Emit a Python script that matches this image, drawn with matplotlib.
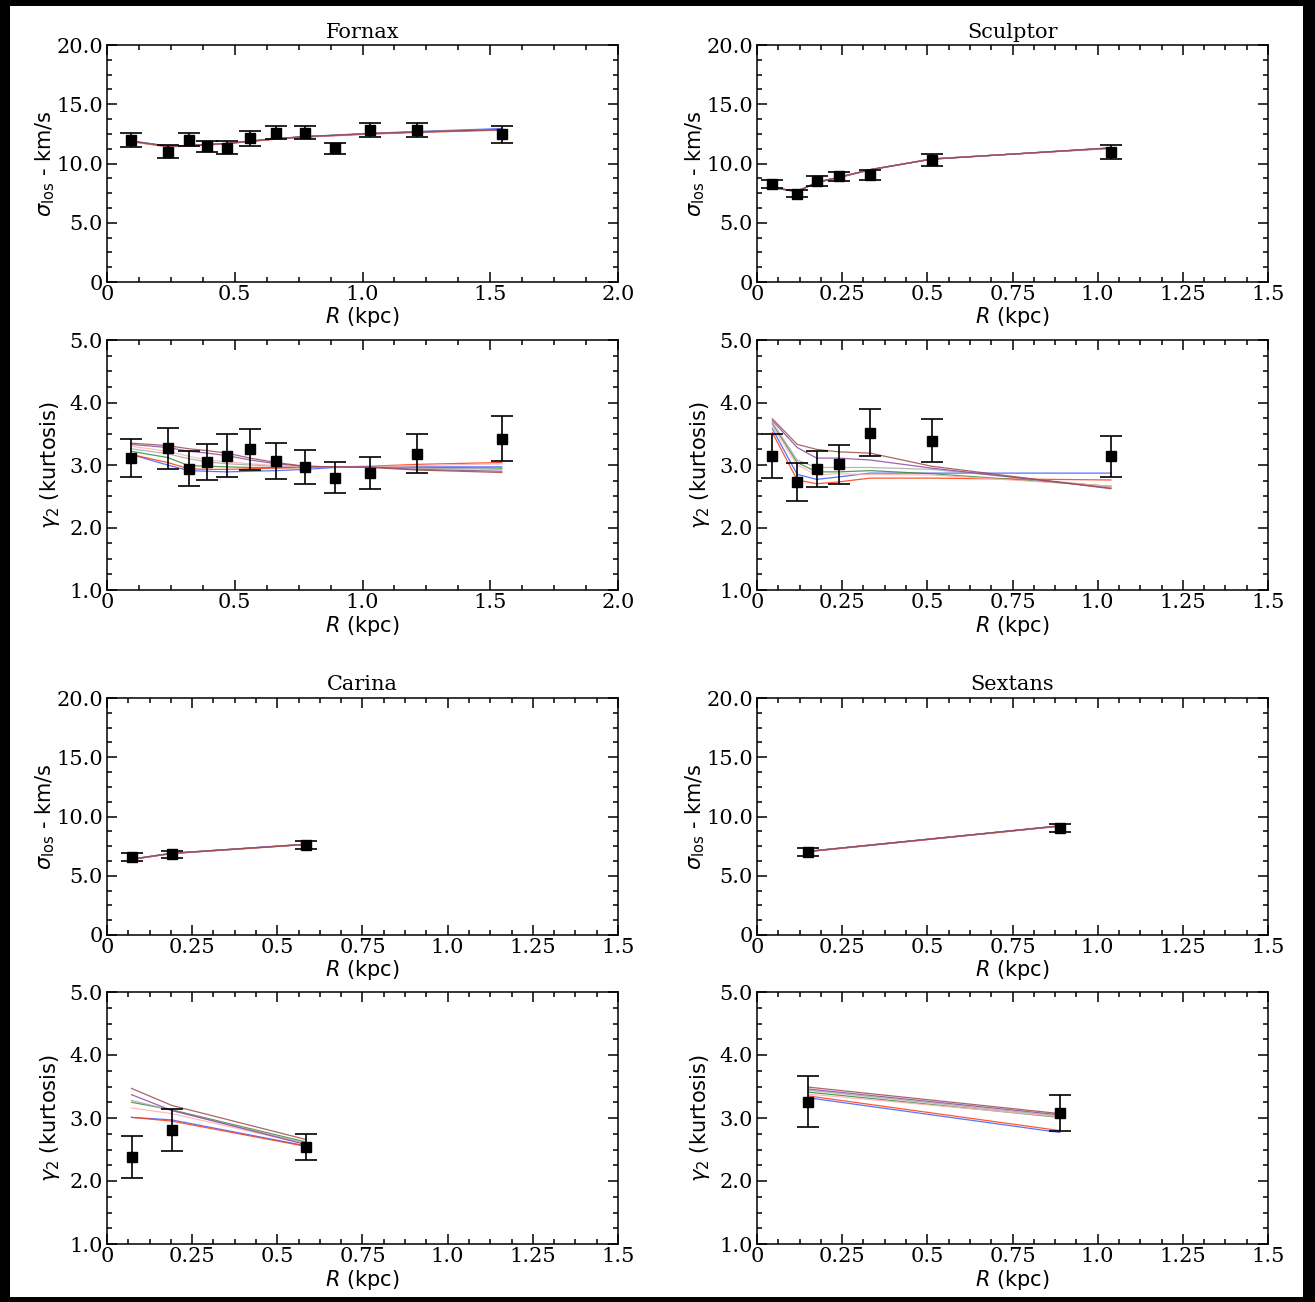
import matplotlib
matplotlib.use("Agg")
import matplotlib.pyplot as plt
from matplotlib.patches import Rectangle
from matplotlib.ticker import MultipleLocator, FixedLocator, FixedFormatter

# ---------------- data ----------------
model_colors = ['#3a5cff', '#ff3a10', '#3a8a3a', '#a8a8a8', '#ffb0b0', '#8a4aa0', '#a04a4a']

# Fornax
fnx_R = [0.093, 0.237, 0.320, 0.393, 0.469, 0.561, 0.663, 0.773, 0.891, 1.029, 1.212, 1.545]
fnx_sig = [11.96, 11.01, 12.02, 11.44, 11.35, 12.11, 12.60, 12.60, 11.30, 12.83, 12.83, 12.46]
fnx_sig_err = [0.58, 0.58, 0.58, 0.45, 0.55, 0.62, 0.55, 0.55, 0.46, 0.58, 0.58, 0.69]
fnx_kur = [3.11, 3.27, 2.94, 3.05, 3.15, 3.25, 3.06, 2.97, 2.80, 2.87, 3.18, 3.42]
fnx_kur_err = [0.30, 0.33, 0.28, 0.29, 0.34, 0.33, 0.29, 0.27, 0.25, 0.26, 0.31, 0.36]
fnx_sig_models = [
    [11.92, 11.48, 11.52, 11.60, 11.70, 11.90, 12.10, 12.28, 12.40, 12.55, 12.70, 12.95],
    [11.85, 11.40, 11.47, 11.56, 11.66, 11.86, 12.05, 12.22, 12.34, 12.48, 12.62, 12.82],
    [11.88, 11.44, 11.50, 11.59, 11.68, 11.88, 12.08, 12.26, 12.37, 12.52, 12.66, 12.88],
    [11.88, 11.45, 11.50, 11.59, 11.68, 11.88, 12.08, 12.25, 12.37, 12.51, 12.66, 12.87],
    [11.87, 11.43, 11.49, 11.58, 11.67, 11.87, 12.07, 12.25, 12.36, 12.51, 12.65, 12.86],
    [11.89, 11.45, 11.51, 11.60, 11.69, 11.89, 12.09, 12.26, 12.38, 12.52, 12.66, 12.86],
    [11.89, 11.46, 11.51, 11.60, 11.69, 11.89, 12.09, 12.27, 12.38, 12.52, 12.65, 12.85],
]
fnx_kur_models = [
    [3.17, 3.00, 2.91, 2.90, 2.89, 2.90, 2.91, 2.93, 2.96, 2.97, 2.97, 2.97],
    [3.17, 3.04, 2.94, 2.93, 2.93, 2.94, 2.95, 2.96, 2.97, 2.98, 3.01, 3.04],
    [3.22, 3.12, 2.99, 2.98, 2.97, 2.96, 2.96, 2.96, 2.97, 2.97, 2.96, 2.95],
    [3.26, 3.18, 3.10, 3.05, 3.02, 3.00, 2.98, 2.97, 2.97, 2.97, 2.95, 2.93],
    [3.30, 3.22, 3.14, 3.08, 3.05, 3.02, 2.99, 2.97, 2.97, 2.97, 2.99, 3.02],
    [3.33, 3.28, 3.22, 3.19, 3.15, 3.08, 3.02, 2.98, 2.97, 2.97, 2.93, 2.90],
    [3.35, 3.31, 3.26, 3.23, 3.19, 3.11, 3.04, 2.98, 2.97, 2.96, 2.92, 2.88],
]

# Sculptor
scl_R = [0.045, 0.118, 0.175, 0.241, 0.332, 0.513, 1.039]
scl_sig = [8.26, 7.46, 8.54, 8.91, 9.02, 10.32, 10.95]
scl_sig_err = [0.35, 0.28, 0.40, 0.36, 0.43, 0.50, 0.57]
scl_kur = [3.14, 2.73, 2.94, 3.01, 3.52, 3.39, 3.14]
scl_kur_err = [0.35, 0.31, 0.29, 0.31, 0.37, 0.34, 0.33]
scl_sig_models = [
    [7.99, 7.65, 8.42, 8.85, 9.49, 10.36, 11.33],
    [7.95, 7.61, 8.38, 8.81, 9.45, 10.40, 11.27],
    [7.97, 7.63, 8.40, 8.83, 9.47, 10.38, 11.30],
    [7.97, 7.63, 8.40, 8.83, 9.47, 10.38, 11.30],
    [7.96, 7.62, 8.39, 8.82, 9.46, 10.39, 11.29],
    [7.98, 7.64, 8.41, 8.84, 9.48, 10.37, 11.31],
    [7.98, 7.63, 8.40, 8.84, 9.48, 10.37, 11.31],
]
scl_kur_models = [
    [3.58, 2.85, 2.77, 2.81, 2.87, 2.87, 2.87],
    [3.52, 2.76, 2.70, 2.73, 2.79, 2.79, 2.76],
    [3.66, 3.04, 2.89, 2.89, 2.91, 2.86, 2.66],
    [3.68, 3.08, 2.96, 2.96, 2.96, 2.93, 2.65],
    [3.62, 3.00, 2.84, 2.86, 2.85, 2.84, 2.66],
    [3.71, 3.28, 3.11, 3.11, 3.08, 2.95, 2.63],
    [3.74, 3.33, 3.25, 3.21, 3.19, 2.98, 2.62],
]

# Carina
car_R = [0.072, 0.190, 0.583]
car_sig = [6.56, 6.81, 7.59]
car_sig_err = [0.35, 0.28, 0.31]
car_kur = [2.38, 2.81, 2.54]
car_kur_err = [0.33, 0.33, 0.20]
car_sig_models = [
    [6.41, 6.90, 7.66],
    [6.37, 6.87, 7.63],
    [6.39, 6.89, 7.65],
    [6.39, 6.89, 7.65],
    [6.38, 6.88, 7.64],
    [6.40, 6.90, 7.66],
    [6.39, 6.88, 7.64],
]
car_kur_models = [
    [3.01, 2.97, 2.56],
    [3.01, 2.95, 2.55],
    [3.25, 3.13, 2.62],
    [3.28, 3.12, 2.60],
    [3.16, 3.07, 2.59],
    [3.37, 3.12, 2.58],
    [3.47, 3.20, 2.66],
]

# Sextans
sex_R = [0.151, 0.889]
sex_sig = [7.00, 9.03]
sex_sig_err = [0.35, 0.35]
sex_kur = [3.26, 3.08]
sex_kur_err = [0.40, 0.28]
sex_sig_models = [
    [7.07, 9.22],
    [7.03, 9.18],
    [7.05, 9.20],
    [7.05, 9.20],
    [7.04, 9.19],
    [7.06, 9.21],
    [7.05, 9.20],
]
sex_kur_models = [
    [3.32, 2.77],
    [3.35, 2.80],
    [3.41, 3.01],
    [3.44, 3.03],
    [3.38, 3.02],
    [3.46, 3.05],
    [3.49, 3.07],
]

names = ['Fornax', 'Sculptor', 'Carina', 'Sextans']

xt_fnx = [0, 0.5, 1.0, 1.5, 2.0]
xt_fnx_lab = ['0', '0.5', '1.0', '1.5', '2.0']
xt_oth = [0, 0.25, 0.5, 0.75, 1.0, 1.25, 1.5]
xt_oth_lab = ['0', '0.25', '0.5', '0.75', '1.0', '1.25', '1.5']
yt_sig = [0, 5, 10, 15, 20]
yt_sig_lab = ['0', '5.0', '10.0', '15.0', '20.0']
yt_kur = [1, 2, 3, 4, 5]
yt_kur_lab = ['1.0', '2.0', '3.0', '4.0', '5.0']

# ---------------- figure ----------------
W, H = 1315, 1302
fig = plt.figure(figsize=(W / 100, H / 100), dpi=100)
fig.patch.set_facecolor('black')
fig.patches.append(Rectangle((10 / W, 5 / H), (W - 22) / W, (H - 11) / H,
                             transform=fig.transFigure, facecolor='white',
                             edgecolor='none', zorder=-5))

serif = 'DejaVu Serif'
sans = 'DejaVu Sans'
plt.rcParams['mathtext.fontset'] = 'dejavusans'


def px_axes(x0, x1, ytop, ybot):
    return fig.add_axes([x0 / W, 1 - ybot / H, (x1 - x0) / W, (ybot - ytop) / H])


cols = [(107, 618), (757, 1268)]
rows = [((45, 282), (340, 590)), ((698, 935), (992, 1244))]

datasets = [
    (fnx_R, fnx_sig, fnx_sig_err, fnx_kur, fnx_kur_err, fnx_sig_models, fnx_kur_models, 2.0, xt_fnx, xt_fnx_lab, 0.125),
    (scl_R, scl_sig, scl_sig_err, scl_kur, scl_kur_err, scl_sig_models, scl_kur_models, 1.5, xt_oth, xt_oth_lab, 0.0625),
    (car_R, car_sig, car_sig_err, car_kur, car_kur_err, car_sig_models, car_kur_models, 1.5, xt_oth, xt_oth_lab, 0.0625),
    (sex_R, sex_sig, sex_sig_err, sex_kur, sex_kur_err, sex_sig_models, sex_kur_models, 1.5, xt_oth, xt_oth_lab, 0.0625),
]


def style(ax, xmax, xt, xtl, xminor, ylim, yt, ytl, yminor):
    ax.set_xlim(0, xmax)
    ax.set_ylim(*ylim)
    ax.xaxis.set_major_locator(FixedLocator(xt))
    ax.xaxis.set_major_formatter(FixedFormatter(xtl))
    ax.yaxis.set_major_locator(FixedLocator(yt))
    ax.yaxis.set_major_formatter(FixedFormatter(ytl))
    ax.xaxis.set_minor_locator(MultipleLocator(xminor))
    ax.yaxis.set_minor_locator(MultipleLocator(yminor))
    ax.tick_params(which='both', direction='in', top=True, right=True, width=1.1)
    ax.tick_params(which='major', length=7.2, labelsize=15)
    ax.tick_params(axis='x', which='major', pad=2.5)
    ax.tick_params(axis='y', which='major', pad=3)
    ax.tick_params(which='minor', length=3.6)
    for lab in ax.get_xticklabels() + ax.get_yticklabels():
        lab.set_family(serif)
    for s in ax.spines.values():
        s.set_linewidth(1.1)


for i, ds in enumerate(datasets):
    R, sig, sige, kur, kure, sigm, kurm, xmax, xt, xtl, xminor = ds
    c0, c1 = cols[i % 2]
    (st, sb), (kt, kb) = rows[i // 2]

    ax1 = px_axes(c0, c1, st, sb)
    for m, col in zip(sigm, model_colors):
        ax1.plot(R, m, color=col, lw=0.9, alpha=0.85, zorder=2)
    ax1.errorbar(R, sig, yerr=sige, fmt='s', color='black', ms=7, elinewidth=1.2,
                 capsize=8, capthick=1.2, zorder=3)
    style(ax1, xmax, xt, xtl, xminor, (0, 20), yt_sig, yt_sig_lab, 1.25)
    ax1.text(0.5, 1 + 13 / (sb - st), names[i], transform=ax1.transAxes,
             ha='center', va='center', fontsize=15, family=serif)
    ax1.set_ylabel(r'$\sigma_{\rm los}$ - km/s', fontsize=15, family=sans, va='center')
    ax1.yaxis.set_label_coords(-62 / (c1 - c0), 0.5)
    ax1.set_xlabel(r'$R$ (kpc)', fontsize=15, family=sans, va='center')
    ax1.xaxis.set_label_coords(0.5, -35 / (sb - st))

    ax2 = px_axes(c0, c1, kt, kb)
    for m, col in zip(kurm, model_colors):
        ax2.plot(R, m, color=col, lw=0.9, alpha=0.85, zorder=2)
    ax2.errorbar(R, kur, yerr=kure, fmt='s', color='black', ms=7, elinewidth=1.2,
                 capsize=8, capthick=1.2, zorder=3)
    style(ax2, xmax, xt, xtl, xminor, (1, 5), yt_kur, yt_kur_lab, 0.25)
    ax2.set_ylabel(r'$\gamma_2$ (kurtosis)', fontsize=15, family=sans, va='center')
    ax2.yaxis.set_label_coords(-57 / (c1 - c0), 0.5)
    ax2.set_xlabel(r'$R$ (kpc)', fontsize=15, family=sans, va='center')
    ax2.xaxis.set_label_coords(0.5, -36 / (kb - kt))

fig.savefig('out.png', dpi=100, facecolor=fig.get_facecolor())
